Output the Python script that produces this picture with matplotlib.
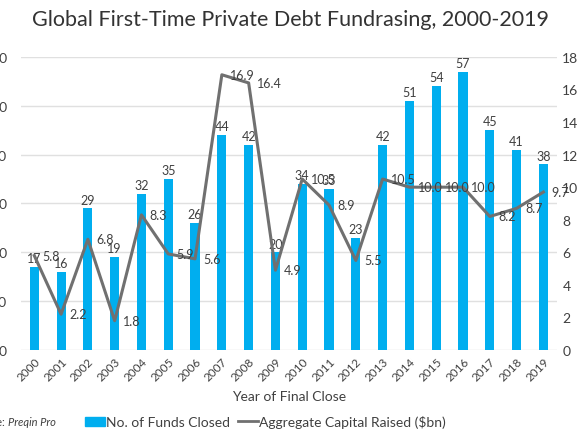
import matplotlib.pyplot as plt
from matplotlib.patches import Patch
from matplotlib.lines import Line2D

plt.rcParams["font.family"] = ["Lato", "DejaVu Sans"]

years = [str(y) for y in range(2000, 2020)]
funds = [17, 16, 29, 19, 32, 35, 26, 44, 42, 20, 34, 33, 23, 42, 51, 54, 57, 45, 41, 38]
capital = [5.8, 2.2, 6.8, 1.8, 8.3, 5.9, 5.6, 16.9, 16.4, 4.9, 10.5, 8.9, 5.5, 10.5,
           10.0, 10.0, 10.0, 8.2, 8.7, 9.7]

blue = "#00AEEF"
grey = "#707070"
txt = "#404040"

fig = plt.figure(figsize=(5.8, 4.35), dpi=100)
ax = fig.add_axes([0.036, 0.193, 0.924, 0.674])
ax2 = ax.twinx()

x = list(range(len(years)))
bars = ax.bar(x, funds, width=0.34, color=blue, zorder=2)
ax.bar_label(bars, labels=[str(v) for v in funds], padding=2, fontsize=9, color=txt)

ax2.plot(x, capital, color=grey, lw=2.2, zorder=3)
for xi, v in zip(x, capital):
    ax2.annotate(f"{v:.1f}", (xi, v), xytext=(6, 0), textcoords="offset points",
                 ha="left", va="center", fontsize=9, color=txt)

ax.set_xlim(-0.5, len(years) - 0.5)
ax.set_ylim(0, 60)
ax.set_yticks(range(0, 61, 10))
ax2.set_ylim(0, 18)
ax2.set_yticks(range(0, 19, 2))

ax.set_zorder(1)
ax2.set_zorder(2)
ax.patch.set_visible(False)

ax.grid(axis="y", color="#e0e0e0", lw=1, zorder=0)
ax.set_axisbelow(True)
for a in (ax, ax2):
    for s in a.spines.values():
        s.set_visible(False)
    a.tick_params(length=0, labelsize=10, colors=txt)
ax.tick_params(axis="y", pad=10)
ax2.tick_params(axis="y", pad=4)

ax.set_xticks(x)
ax.set_xticklabels(years, rotation=45, ha="right", rotation_mode="anchor", fontsize=8.5)
ax.set_xlabel("Year of Final Close", fontsize=10, color=txt, labelpad=6)

fig.text(0.5, 0.955, "Global First-Time Private Debt Fundrasing, 2000-2019",
         ha="center", va="center", fontsize=15.5, color="#333333")

handles = [Patch(color=blue), Line2D([0], [0], color=grey, lw=2)]
fig.legend(handles, ["No. of Funds Closed", "Aggregate Capital Raised ($bn)"],
           loc="center", bbox_to_anchor=(0.458, 0.028), ncol=2, frameon=False,
           fontsize=10, labelcolor=txt, handlelength=1.4, handletextpad=0.1,
           columnspacing=0.6)

fig.text(0.014, 0.028, "Source: ", ha="right", va="center", fontsize=8, color=txt)
fig.text(0.014, 0.028, "Preqin Pro", ha="left", va="center", fontsize=8,
         color=txt, style="italic")

fig.savefig("out.png", dpi=100)
